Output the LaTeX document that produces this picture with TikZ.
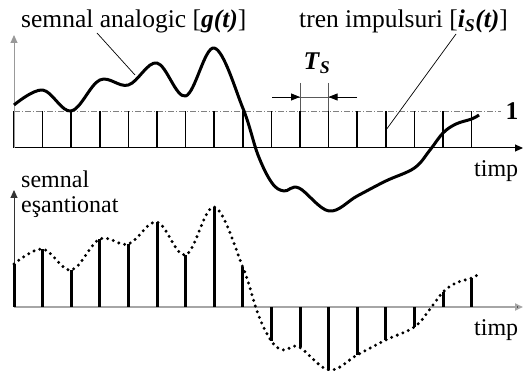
\documentclass[tikz,border=0pt]{standalone}
\usepackage{fontspec}
\setmainfont{Liberation Serif}
\usetikzlibrary{arrows.meta}
\begin{document}
\begin{tikzpicture}[x=1pt,y=-1pt,
  lbl/.style={font=\fontsize{24}{25}\selectfont, inner sep=0pt},
  biglbl/.style={font=\fontsize{25.5}{26}\selectfont, inner sep=0pt},
  axisline/.style={line width=1pt},
  tip/.style={-{Triangle[length=8pt,width=7pt]}},
  impulse/.style={line width=1.5pt, black},
  stem/.style={line width=3pt, black},
  analog/.style={line width=3pt, black, line join=round},
  sampled/.style={line width=3.3pt, black, line cap=round, dash pattern=on 0pt off 6pt},
  leader/.style={line width=0.7pt, black},
  refline/.style={line width=0.9pt, gray, dash pattern=on 6pt off 2pt on 1pt off 2pt}]
\useasboundingbox (0,0) rectangle (523,371);

% ---------- top panel ----------
\coordinate (o1) at (14,148);
\coordinate (ytop1) at (14,35);
\coordinate (xend1) at (523,148);
\coordinate (r0) at (14,111);
\coordinate (r1) at (501,111);
\draw[refline] (r0) -- (r1);
\foreach \k in {0,...,16}
  \draw[impulse] ({14+28.6*\k},148) -- ({14+28.6*\k},111);
\draw[axisline, black, tip] (o1) -- (xend1);
\draw[axisline, gray!80, tip] (o1) -- (ytop1);

\draw[analog] plot[smooth, tension=0.6] coordinates {
  (14,105) (42.6,90) (71.2,111) (99.8,80) (128.4,85) (157,63) (185.6,96)
  (214.2,48) (242.8,108) (258,155) (272,183) (284,191) (299,188)
  (329,211) (357.2,196) (385.8,181) (414.4,168) (430,150) (443,133)
  (456,124) (471.6,119) (479,115)};

% Ts marker
\coordinate (tsa) at (300,83);
\coordinate (tsb) at (328.6,83);
\coordinate (tsa0) at (300,111);
\coordinate (tsb0) at (328.6,111);
\draw[line width=0.8pt, gray!70!black] (tsa) -- (tsa0) (tsb) -- (tsb0);
\coordinate (tsl) at (272,97);
\coordinate (tsr) at (357,97);
\coordinate (tsam) at (300,97);
\coordinate (tsbm) at (328.6,97);
\draw[line width=0.8pt, gray!70!black] (tsl) -- (tsr);
\draw[line width=0.8pt, -{Triangle[length=9pt,width=7pt]}] (tsl) -- (tsam);
\draw[line width=0.8pt, -{Triangle[length=9pt,width=7pt]}] (tsr) -- (tsbm);
\node[biglbl, anchor=base] (ts) at (317,70) {\textbf{\textit{T}\textsubscript{\textit{S}}}};

% labels
\node[biglbl, anchor=base west] (ga) at (21,28) {semnal analogic [\textbf{\textit{g(t)}}]};
\node[biglbl, anchor=base west] (ti) at (299,28) {tren impulsuri [\textbf{\textit{i}\textsubscript{\textit{S}}\textit{(t)}}]};
\node[biglbl, anchor=base] (one) at (512,120) {\textbf{1}};
\node[lbl, anchor=base west] (tm1) at (474,177) {timp};
\coordinate (gaL) at (97,33);
\coordinate (gaP) at (135,75);
\draw[leader] (gaL) -- (gaP);
\coordinate (tiL) at (456,34);
\coordinate (tiP) at (386,130);
\draw[leader] (tiL) -- (tiP);

% ---------- bottom panel ----------
\coordinate (o2) at (14,307);
\coordinate (ytop2) at (14,190);
\coordinate (xend2) at (523,307);
\draw[line width=1.8pt, gray!70, -{Triangle[length=8pt,width=7pt,fill=black]}] (o2) -- (xend2);
\draw[axisline, black!80, tip] (o2) -- (ytop2);

\foreach \x/\y in {14/105, 42.6/90, 71.2/111, 99.8/80, 128.4/85, 157/63, 185.6/96,
  214.2/48, 242.8/108, 271.4/182, 300/188, 328.6/211, 357.2/196, 385.8/181,
  414.4/168, 443/133, 471.6/119}
  \draw[stem] (\x,307) -- (\x,{\y+159});

\begin{scope}[yshift=-159pt]
\draw[sampled] plot[smooth, tension=0.6] coordinates {
  (14,105) (42.6,90) (71.2,111) (99.8,80) (128.4,85) (157,63) (185.6,96)
  (214.2,48) (242.8,108) (258,155) (272,183) (284,191) (299,188)
  (329,211) (357.2,196) (385.8,181) (414.4,168) (430,150) (443,133)
  (456,124) (471.6,119) (479,115)};
\end{scope}

\node[lbl, anchor=base west] (se) at (21,188) {semnal};
\node[lbl, anchor=base west] (es) at (21,213) {eşantionat};
\node[lbl, anchor=base west] (tm2) at (474,336) {timp};
\end{tikzpicture}
\end{document}
